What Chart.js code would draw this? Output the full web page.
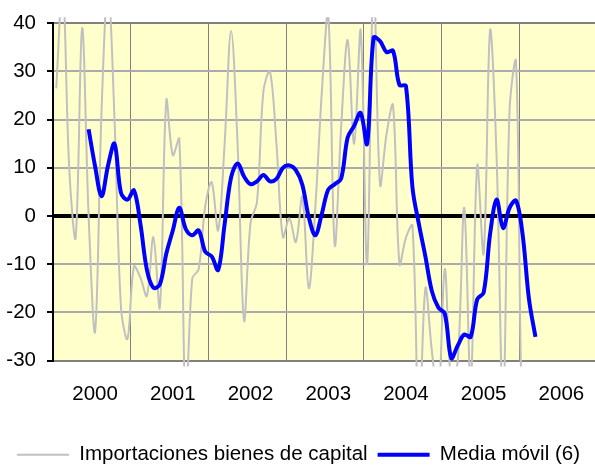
<!DOCTYPE html>
<html>
<head>
<meta charset="utf-8">
<script src="https://cdn.jsdelivr.net/npm/chart.js@4"></script>
<style>
  html, body { margin: 0; padding: 0; background: #fff; overflow: hidden; }
  #wrap { width: 597px; height: 475px; position: relative; }
</style>
</head>
<body>
<div id="wrap"><canvas id="c"></canvas></div>
<script>
// Monthly series, January 2000 (index 0) to March 2006 (index 74)
const yearLabels = ['2000', '2001', '2002', '2003', '2004', '2005', '2006'];

const importaciones = [
  26.5, 48, 10, -4.5, 39, 0, -24, 22, 48, 20, -19, -25.5,
  -10.5, -12.8, -16.6, -4.4, -19, 24, 12.6, 16, -40, -13, -11, 2,
  7, -3, 15, 38.4, 15, -21.7, -1.5, 3, 26, 30, 15, -4.4,
  -0.5, -5.4, 4, -15, 1.7, 25.5, 42, -6, 18.7, 36.5, 15, 38.7,
  -10, 50, 6.5, 17, 23, -10, -4.5, -2, -45, -15, -28, -38,
  -11, -35, -30, 1.7, -35, 10.5, -7.8, 38.7, 12, -40, 22, 32,
  -45, -50, -45
];

const mediaMovil = [
  null, null, null, null, null, 18, 10.3, 4.1, 10.5, 15, 4.8, 3.4,
  5.3, -1.7, -11.2, -14.9, -14.2, -7.8, -3, 1.7, -2.7, -4, -3, -7.4,
  -8.4, -11.2, -1.7, 8, 10.9, 8.2, 6.6, 7.2, 8.5, 7.2, 7.7, 10,
  10.5, 9.5, 6.5, -0.3, -4, 0.4, 5.5, 6.6, 7.8, 16.3, 18.7, 21.4,
  15, 37, 36.3, 34, 34.3, 27.2, 27, 6, -1.7, -8.4, -15.6, -19,
  -20.3, -29.5, -26.9, -24.6, -25.1, -17.3, -15.9, -3.7, 3.4, -2.5, 1.7, 3.2,
  -3.7, -17.3, -25.1
];

const toPoints = arr => arr
  .map((v, i) => (v === null ? null : { x: i + 0.5, y: v }))
  .filter(p => p !== null);

const AXIS_FONT = { family: '"Liberation Sans", Arial, sans-serif', size: 20.5 };
const LEGEND_FONT = { family: '"Liberation Sans", Arial, sans-serif', size: 20.5 };
const LABEL_SHIFT = 0.5; // year labels sit slightly right of the year's centre

const bgPlugin = {
  id: 'plotBg',
  beforeDraw(chart) {
    const { ctx, chartArea: a } = chart;
    ctx.save();
    ctx.fillStyle = '#FFFFCC';
    ctx.fillRect(a.left, a.top, a.right - a.left, a.bottom - a.top);
    ctx.restore();
  }
};

new Chart(document.getElementById('c'), {
  type: 'line',
  data: {
    datasets: [
      {
        label: 'Media móvil (6)',
        data: toPoints(mediaMovil),
        borderColor: '#0000FF',
        backgroundColor: '#0000FF',
        borderWidth: 4,
        pointRadius: 0,
        tension: 0.35,
        fill: false,
        clip: { left: 10, top: 6, right: 10, bottom: 6 }
      },
      {
        label: 'Importaciones bienes de capital',
        data: toPoints(importaciones),
        borderColor: '#C0C0C0',
        backgroundColor: '#C0C0C0',
        borderWidth: 2,
        pointRadius: 0,
        tension: 0.35,
        fill: false,
        clip: { left: 10, top: 6, right: 10, bottom: 6 }
      }
    ]
  },
  options: {
    responsive: true,
    maintainAspectRatio: false,
    animation: false,
    events: [],
    layout: { padding: { top: 17, left: 0, right: 0, bottom: 0 } },
    plugins: {
      tooltip: { enabled: false },
      legend: {
        position: 'bottom',
        labels: {
          font: LEGEND_FONT,
          color: '#000',
          usePointStyle: true,
          pointStyle: 'line',
          pointStyleWidth: 52,
          padding: 10,
          sort: (a, b) => b.datasetIndex - a.datasetIndex
        }
      }
    },
    scales: {
      x: {
        type: 'linear',
        min: 0,
        max: 84,
        afterBuildTicks: s => {
          const t = [];
          for (let k = 0; k <= 7; k++) {
            t.push({ value: 12 * k });
            if (k < 7) t.push({ value: 12 * k + 6 + LABEL_SHIFT });
          }
          s.ticks = t;
        },
        ticks: {
          autoSkip: false,
          maxRotation: 0,
          padding: 0,
          font: AXIS_FONT,
          color: '#000',
          callback: v => (v % 12 === 6 + LABEL_SHIFT ? yearLabels[Math.round((v - 6 - LABEL_SHIFT) / 12)] : '')
        },
        grid: {
          color: c => (c.tick && c.tick.value % 12 === 0 ? '#808080' : 'rgba(0,0,0,0)'),
          lineWidth: 1,
          drawTicks: true,
          tickLength: 22,
          tickColor: 'rgba(0,0,0,0)'
        },
        border: { display: false },
        afterFit: s => { s.height = 74; }
      },
      y: {
        min: -30,
        max: 40,
        ticks: { stepSize: 10, padding: 11, font: AXIS_FONT, color: '#000' },
        grid: {
          color: c => {
            const v = c.tick ? c.tick.value : null;
            if (v === 0) return '#000000';
            if (v === 40 || v === -30) return '#808080';
            return '#ABABAB';
          },
          lineWidth: c => (c.tick && c.tick.value === 0 ? 4 : 2),
          tickColor: '#000',
          tickLength: 6,
          tickWidth: 2
        },
        border: { color: '#000', width: 2 },
        afterFit: s => { s.width = 53; }
      }
    }
  },
  plugins: [bgPlugin]
});
</script>
</body>
</html>
